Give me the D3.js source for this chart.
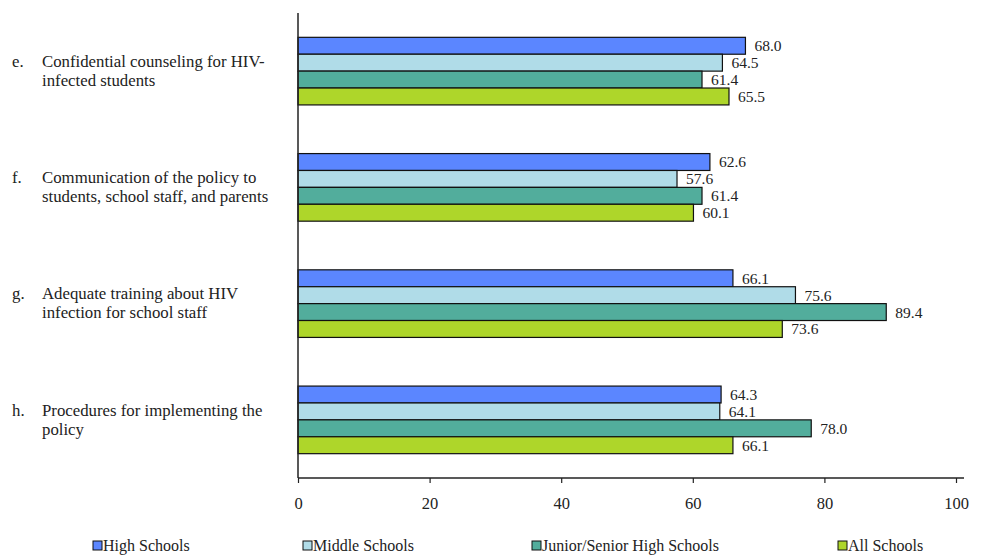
<!DOCTYPE html>
<html><head><meta charset="utf-8">
<script src="https://cdn.jsdelivr.net/npm/d3@7"></script>
<style>body{margin:0;background:#fff}svg{display:block}</style>
</head><body><svg id="c" width="993" height="556"></svg>
<script>
const categories = ["e","f","g","h"];
const categoryLetters = ["e.","f.","g.","h."];
const categoryLines = [
  ["Confidential counseling for HIV-","infected students"],
  ["Communication of the policy to","students, school staff, and parents"],
  ["Adequate training about HIV","infection for school staff"],
  ["Procedures for implementing the","policy"]
];
const seriesNames = ["High Schools","Middle Schools","Junior/Senior High Schools","All Schools"];
const highSchools = [68.0, 62.6, 66.1, 64.3];
const middleSchools = [64.5, 57.6, 75.6, 64.1];
const juniorSenior = [61.4, 61.4, 89.4, 78.0];
const allSchools = [65.5, 60.1, 73.6, 66.1];
const seriesValues = [highSchools, middleSchools, juniorSenior, allSchools];
const colors = ["#5B86FF","#B0DCE8","#52AD9C","#AED62A"];
const xTicks = [0,20,40,60,80,100];

const FONT = "'Liberation Serif', 'Times New Roman', Tinos, 'DejaVu Serif', serif";
const svg = d3.select("#c");
const x = d3.scaleLinear().domain([0,100]).range([298,956]);
const y0 = d3.scaleBand().domain(categories).range([13,478]).paddingInner(0).paddingOuter(0);
const bandH = y0.bandwidth();
const barStep = 16.9;
const groupH = barStep*4;

categories.forEach((c,i)=>{
  const top = y0(c) + (bandH-groupH)/2;
  seriesValues.forEach((vals,s)=>{
    const v = vals[i];
    const yy = top + s*barStep;
    svg.append("rect").attr("x",x(0)).attr("y",yy).attr("width",x(v)-x(0)).attr("height",barStep)
      .attr("fill",colors[s]).attr("stroke","#111").attr("stroke-width",1.2);
    svg.append("text").attr("x",x(v)+9).attr("y",yy+barStep/2).attr("dy","0.35em")
      .attr("font-size",15.5).text(v.toFixed(1));
  });
  const cy = y0(c)+bandH/2;
  const lines = categoryLines[i];
  const lh = 19;
  svg.append("text").attr("x",12).attr("y",cy - 10.2).attr("dy","0.35em").attr("font-size",16.8).text(categoryLetters[i]);
  lines.forEach((ln,k)=>{
    svg.append("text").attr("x",42).attr("y",cy - 10.2 + k*lh).attr("dy","0.35em").attr("font-size",16.8).text(ln);
  });
});

// axes
svg.append("line").attr("x1",x(0)).attr("x2",x(0)).attr("y1",13).attr("y2",478).attr("stroke","#222").attr("stroke-width",1.5);
const xAxis = d3.axisBottom(x).tickValues(xTicks).tickSize(5).tickPadding(14).tickFormat(d3.format("d"));
const gx = svg.append("g").attr("transform","translate(0,478)").call(xAxis);
gx.select(".domain").attr("d",`M${x(0)},0H964`).attr("stroke","#222").attr("stroke-width",1.5);
gx.selectAll(".tick line").attr("stroke","#222").attr("stroke-width",1.2);
gx.selectAll(".tick text").attr("font-size",16.5);

// legend
const legendX = [93,303,532,838];
seriesNames.forEach((n,s)=>{
  const g = svg.append("g").attr("transform",`translate(${legendX[s]},545)`);
  g.append("rect").attr("x",0).attr("y",-4).attr("width",9).attr("height",9).attr("fill",colors[s]).attr("stroke","#111").attr("stroke-width",1);
  g.append("text").attr("x",10).attr("y",0).attr("dy","0.35em").attr("font-size",16).text(n);
});

svg.selectAll("text").attr("font-family",null).style("font-family",FONT).style("fill","#222");
gx.attr("font-family",null);
</script></body></html>
